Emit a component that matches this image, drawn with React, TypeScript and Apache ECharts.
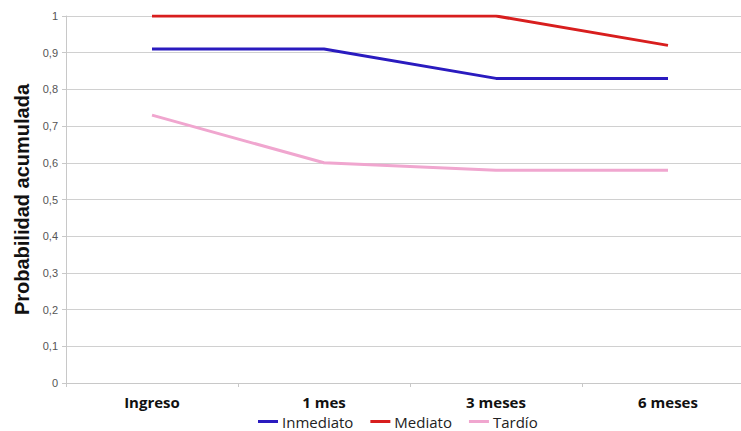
import React, { useEffect, useRef } from "react";
import * as echarts from "echarts";

const categories = ["Ingreso", "1 mes", "3 meses", "6 meses"];
const inmediato = [0.91, 0.91, 0.83, 0.83];
const mediato = [1, 1, 1, 0.92];
const tardio = [0.73, 0.6, 0.58, 0.58];
const seriesNames = ["Inmediato", "Mediato", "Tardío"];

export default function App() {
  const ref = useRef<HTMLDivElement>(null);
  useEffect(() => {
    if (!ref.current) return;
    const chart = echarts.init(ref.current, null, { renderer: "svg" });
    chart.setOption({
      animation: false,
      backgroundColor: "#ffffff",
      grid: { left: 66, width: 688, top: 16, height: 367 },
      legend: {
        data: seriesNames,
        left: 258,
        top: 414,
        padding: 0,
        icon: "rect",
        itemWidth: 20,
        itemHeight: 3,
        itemGap: 17,
        textStyle: { fontFamily: "Open Sans", fontSize: 15, color: "#222", padding: [0, 0, 0, -1] },
      },
      xAxis: {
        type: "category",
        data: categories,
        boundaryGap: true,
        axisLine: { lineStyle: { color: "#c8c8c8" } },
        axisTick: { show: true, length: 4, lineStyle: { color: "#c8c8c8" } },
        axisLabel: { fontFamily: "Open Sans", fontWeight: "bold", fontSize: 15, color: "#111", margin: 11 },
      },
      yAxis: {
        type: "value",
        min: 0,
        max: 1,
        interval: 0.1,
        name: "Probabilidad acumulada",
        nameLocation: "middle",
        nameGap: 33,
        nameRotate: 90,
        nameTextStyle: { fontFamily: "Liberation Sans", fontWeight: "bold", fontSize: 20, color: "#111" },
        axisLine: { show: true, lineStyle: { color: "#c8c8c8" } },
        axisTick: { show: true, length: 4, lineStyle: { color: "#c8c8c8" } },
        splitLine: { lineStyle: { color: "#d0d0d0" } },
        axisLabel: {
          fontFamily: "Liberation Sans",
          fontSize: 11,
          color: "#555",
          margin: 8,
          formatter: (v: number) => String(Math.round(v * 10) / 10).replace(".", ","),
        },
      },
      series: [
        { name: "Inmediato", type: "line", data: inmediato, symbol: "none", lineStyle: { width: 3, color: "#2a1bbf" }, itemStyle: { color: "#2a1bbf" } },
        { name: "Mediato", type: "line", data: mediato, symbol: "none", lineStyle: { width: 3, color: "#d81e1e" }, itemStyle: { color: "#d81e1e" } },
        { name: "Tardío", type: "line", data: tardio, symbol: "none", lineStyle: { width: 3, color: "#f0a6cf" }, itemStyle: { color: "#f0a6cf" } },
      ],
    });
    return () => chart.dispose();
  }, []);
  return (
    <div style={{ position: "absolute", left: 0, top: 0, width: 741, height: 431, overflow: "hidden", background: "#fff" }}>
      <div ref={ref} style={{ width: 770, height: 431 }} />
    </div>
  );
}
